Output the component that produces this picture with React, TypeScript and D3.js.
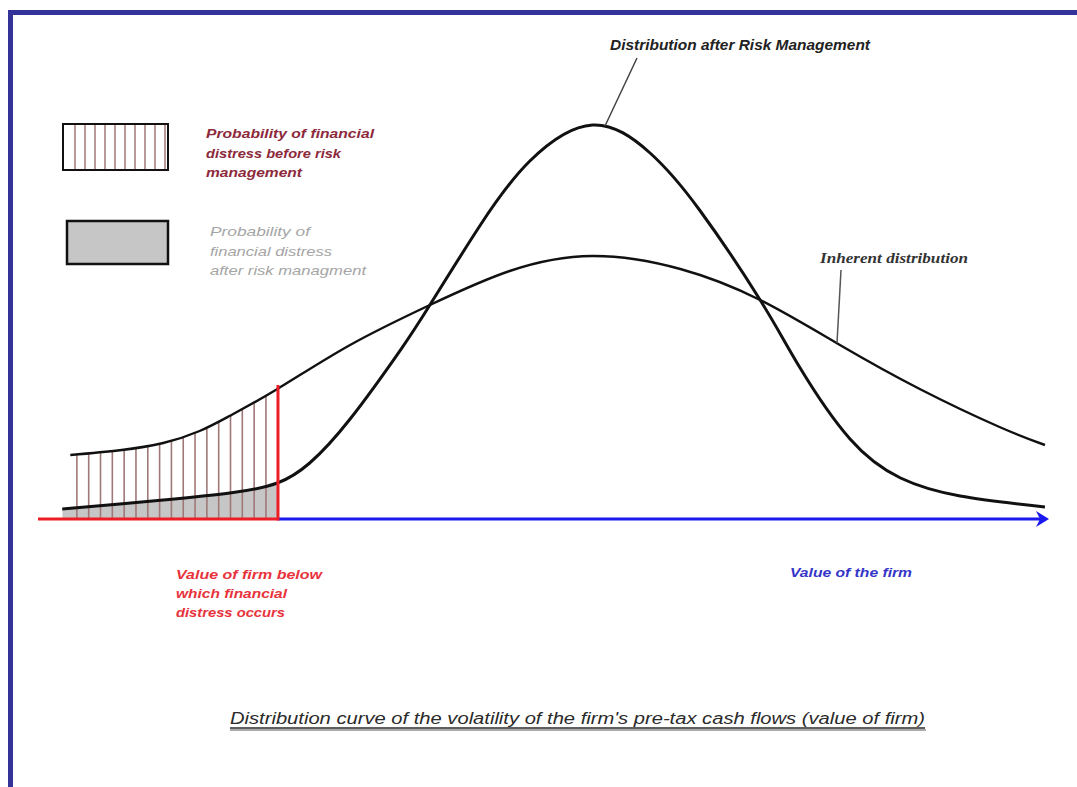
import React from "react";
import * as d3 from "d3";

// Value of the firm (0..100) and density heights (0..100)
const inherentX = [3.2, 8.1, 12.4, 16.0, 19.0, 23.7, 30.9, 38.8, 46.7, 54.9, 63.6, 71.5, 79.4, 87.3, 95.2, 99.7];
const inherentY = [16, 17.2, 19, 22, 25.8, 32.5, 43.5, 53.5, 62, 65.75, 62.5, 54.75, 43.5, 32.5, 23, 18.5];
const managedX = [2.4, 8.1, 12.4, 19.0, 23.7, 26.9, 30.9, 35.9, 38.8, 43.8, 48.7, 54.9, 60.6, 65.5, 71.5, 75.4, 80.4, 85.4, 91.3, 99.7];
const managedY = [2.5, 3.75, 4.75, 6.5, 9, 14, 25, 42.3, 53.5, 73.5, 89.5, 98.5, 91.5, 77.25, 54.75, 38, 20, 10.25, 5.75, 3];
const distressThreshold = 23.76;
const hatchStart = 3.85;
const hatchStep = 1.17;

const legendLabels1 = ["Probability of financial", "distress before risk", "management"];
const legendLabels2 = ["Probability of", "financial distress", "after risk managment"];
const redLabels = ["Value of firm below", "which financial", "distress occurs"];
const blueLabel = "Value of the firm";
const topLabel = "Distribution after Risk Management";
const inherentLabel = "Inherent distribution";
const title = "Distribution curve of the volatility of the firm's pre-tax cash flows (value of firm)";

export default function App() {
  const W = 1077, H = 787;
  const x = d3.scaleLinear().domain([0, 100]).range([38, 1048]);
  const y = d3.scaleLinear().domain([0, 100]).range([519, 119]);

  const inherent = inherentX.map((v, i) => [v, inherentY[i]] as [number, number]);
  const managed = managedX.map((v, i) => [v, managedY[i]] as [number, number]);

  const line = d3.line<[number, number]>().x(d => x(d[0])).y(d => y(d[1])).curve(d3.curveNatural);
  const area = d3.area<[number, number]>().x(d => x(d[0])).y0(y(0)).y1(d => y(d[1])).curve(d3.curveNatural);

  const hatchVals = d3.range(hatchStart, distressThreshold - 0.3, hatchStep);
  const legendHatch = d3.range(0, 10);

  const sans = "'Liberation Sans', Arial, sans-serif";
  const narrow = "'Liberation Sans Narrow', 'Liberation Sans', Arial, sans-serif";
  const serif = "'Liberation Serif', 'DejaVu Serif', serif";

  return (
    <svg width={W} height={H} style={{ position: "absolute", left: 0, top: 0, background: "#fff" }}>
      <defs>
        <clipPath id="inhClip">
          <path d={area(inherent) || ""} />
        </clipPath>
        <clipPath id="leftClip">
          <rect x={x(inherentX[0])} y={0} width={x(distressThreshold) - x(inherentX[0])} height={H} />
        </clipPath>
        <clipPath id="leftClip2">
          <rect x={x(managedX[0])} y={0} width={x(distressThreshold) - x(managedX[0])} height={H} />
        </clipPath>
      </defs>

      {/* frame */}
      <rect x={8} y={10} width={W - 8} height={5} fill="#33339a" />
      <rect x={8} y={10} width={5} height={H - 10} fill="#33339a" />

      {/* gray area after risk management */}
      <g clipPath="url(#leftClip2)">
        <path d={area(managed) || ""} fill="#c6c6c6" />
      </g>

      {/* hatching */}
      <g clipPath="url(#leftClip)">
        <g clipPath="url(#inhClip)">
          {hatchVals.map((v, i) => (
            <line key={i} x1={x(v)} x2={x(v)} y1={100} y2={y(0)} stroke="#a07878" strokeWidth={1.6} />
          ))}
        </g>
      </g>

      {/* curves */}
      <path d={line(inherent) || ""} fill="none" stroke="#111" strokeWidth={2.4} />
      <path d={line(managed) || ""} fill="none" stroke="#111" strokeWidth={3} />

      {/* axis */}
      <line x1={x(distressThreshold)} x2={1040} y1={y(0)} y2={y(0)} stroke="#1a1aee" strokeWidth={3} />
      <path d={`M1036,${y(0) - 8} L1049,${y(0)} L1036,${y(0) + 8} L1040,${y(0)} Z`} fill="#1a1aee" />
      <line x1={38} x2={x(distressThreshold)} y1={y(0)} y2={y(0)} stroke="#ee1c24" strokeWidth={3} />
      <line x1={x(distressThreshold)} x2={x(distressThreshold)} y1={y(0) + 1.5} y2={385} stroke="#ee1c24" strokeWidth={3} />

      {/* pointers */}
      <line x1={637} y1={58} x2={605} y2={126} stroke="#444" strokeWidth={1.5} />
      <line x1={841} y1={270} x2={837} y2={343} stroke="#555" strokeWidth={1.5} />

      {/* curve labels */}
      <text x={610} y={50} fontFamily={narrow} fontStyle="italic" fontWeight="bold" fontSize={14} fill="#222"
        textLength={260} lengthAdjust="spacingAndGlyphs">{topLabel}</text>
      <text x={820} y={263} fontFamily={serif} fontStyle="italic" fontWeight="bold" fontSize={14} fill="#333"
        textLength={148} lengthAdjust="spacingAndGlyphs">{inherentLabel}</text>

      {/* legend */}
      <rect x={63} y={124} width={105} height={46} fill="#fff" stroke="#111" strokeWidth={2} />
      {legendHatch.map(i => (
        <line key={i} x1={75 + i * 10} x2={75 + i * 10} y1={125} y2={169} stroke="#a07878" strokeWidth={1.5} />
      ))}
      {legendLabels1.map((t, i) => (
        <text key={i} x={206} y={138 + i * 19.5} fontFamily={sans} fontStyle="italic" fontWeight="bold" fontSize={13}
          fill="#8c2a3c" textLength={[168, 135, 96][i]} lengthAdjust="spacingAndGlyphs">{t}</text>
      ))}
      <rect x={67} y={221} width={101} height={43} fill="#c6c6c6" stroke="#111" strokeWidth={2.5} />
      {legendLabels2.map((t, i) => (
        <text key={i} x={210} y={236 + i * 19.5} fontFamily={sans} fontStyle="italic" fontSize={13}
          fill="#a5a5a5" textLength={[100, 122, 156][i]} lengthAdjust="spacingAndGlyphs">{t}</text>
      ))}

      {/* axis labels */}
      {redLabels.map((t, i) => (
        <text key={i} x={176} y={579 + i * 19} fontFamily={sans} fontStyle="italic" fontWeight="bold" fontSize={13}
          fill="#e8323c" textLength={[146, 111, 109][i]} lengthAdjust="spacingAndGlyphs">{t}</text>
      ))}
      <text x={790} y={577} fontFamily={sans} fontStyle="italic" fontWeight="bold" fontSize={13} fill="#3535c8"
        textLength={122} lengthAdjust="spacingAndGlyphs">{blueLabel}</text>

      {/* title */}
      <text x={230} y={724} fontFamily={sans} fontStyle="italic" fontSize={16} fill="#2a2a2a"
        textLength={695} lengthAdjust="spacingAndGlyphs">{title}</text>
      <line x1={230} x2={926} y1={730} y2={730} stroke="#aaa" strokeWidth={2} />
      <line x1={230} x2={925} y1={728} y2={728} stroke="#2a2a2a" strokeWidth={1.3} />
    </svg>
  );
}
